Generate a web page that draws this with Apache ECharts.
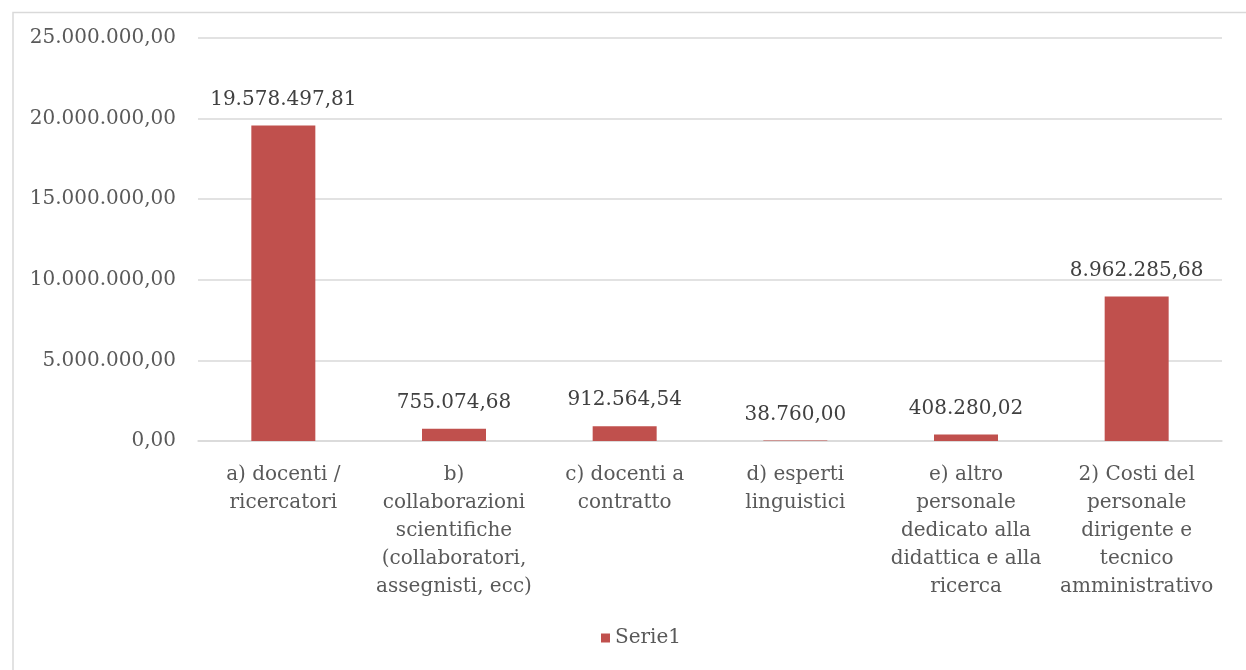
<!DOCTYPE html>
<html>
<head>
<meta charset="utf-8">
<script src="https://cdn.jsdelivr.net/npm/echarts@6/dist/echarts.min.js"></script>
<style>html,body{margin:0;padding:0;background:#fff}#c{width:1246px;height:670px}</style>
</head>
<body>
<div id="c"></div>
<script>
var categories = [
  "a) docenti /\nricercatori",
  "b)\ncollaborazioni\nscientifiche\n(collaboratori,\nassegnisti, ecc)",
  "c) docenti a\ncontratto",
  "d) esperti\nlinguistici",
  "e) altro\npersonale\ndedicato alla\ndidattica e alla\nricerca",
  "2) Costi del\npersonale\ndirigente e\ntecnico\namministrativo"
];
var serie1 = [19578497.81, 755074.68, 912564.54, 38760.00, 408280.02, 8962285.68];
var seriesName = "Serie1";

function fmtIt(v) {
  var parts = Number(v).toFixed(2).split(".");
  parts[0] = parts[0].replace(/\B(?=(\d{3})+(?!\d))/g, ".");
  return parts[0] + "," + parts[1];
}

var FONT = "DejaVu Serif";
var TXT = "#595959";
var chart = echarts.init(document.getElementById('c'));
chart.setOption({
  animation: false,
  backgroundColor: "#fff",
  graphic: [{
    type: 'rect', left: 10.5, top: 10,
    shape: { width: 1300, height: 700 },
    style: { fill: 'none', stroke: '#d9d9d9', lineWidth: 1.5 },
    silent: true
  }],
  grid: { left: 198, right: 24, top: 38, bottom: 229 },
  legend: {
    bottom: 17, left: 596,
    icon: 'rect', itemWidth: 9, itemHeight: 9, itemGap: 8,
    textStyle: { fontFamily: FONT, fontSize: 20, color: TXT },
    data: [seriesName]
  },
  xAxis: {
    type: 'category',
    data: categories,
    axisLine: { lineStyle: { color: '#d9d9d9', width: 1.5 } },
    axisTick: { length: 6, lineStyle: { color: '#d9d9d9', width: 1.5 } },
    axisLabel: { interval: 0, margin: 20, fontFamily: FONT, fontSize: 20, color: TXT, lineHeight: 28, align: 'center' }
  },
  yAxis: {
    type: 'value', min: 0, max: 25000000, interval: 5000000,
    axisLine: { show: false }, axisTick: { show: false },
    splitLine: { lineStyle: { color: '#d9d9d9', width: 1.5 } },
    axisLabel: { margin: 22, fontFamily: FONT, fontSize: 20, color: TXT, formatter: function (v) { return fmtIt(v); } }
  },
  series: [{
    name: seriesName,
    type: 'bar',
    data: serie1,
    barWidth: 64,
    itemStyle: { color: '#c0504d' },
    label: {
      show: true, position: 'top', distance: 16,
      fontFamily: FONT, fontSize: 20, color: '#404040',
      formatter: function (p) { return fmtIt(p.value); }
    }
  }]
});
</script>
</body>
</html>
